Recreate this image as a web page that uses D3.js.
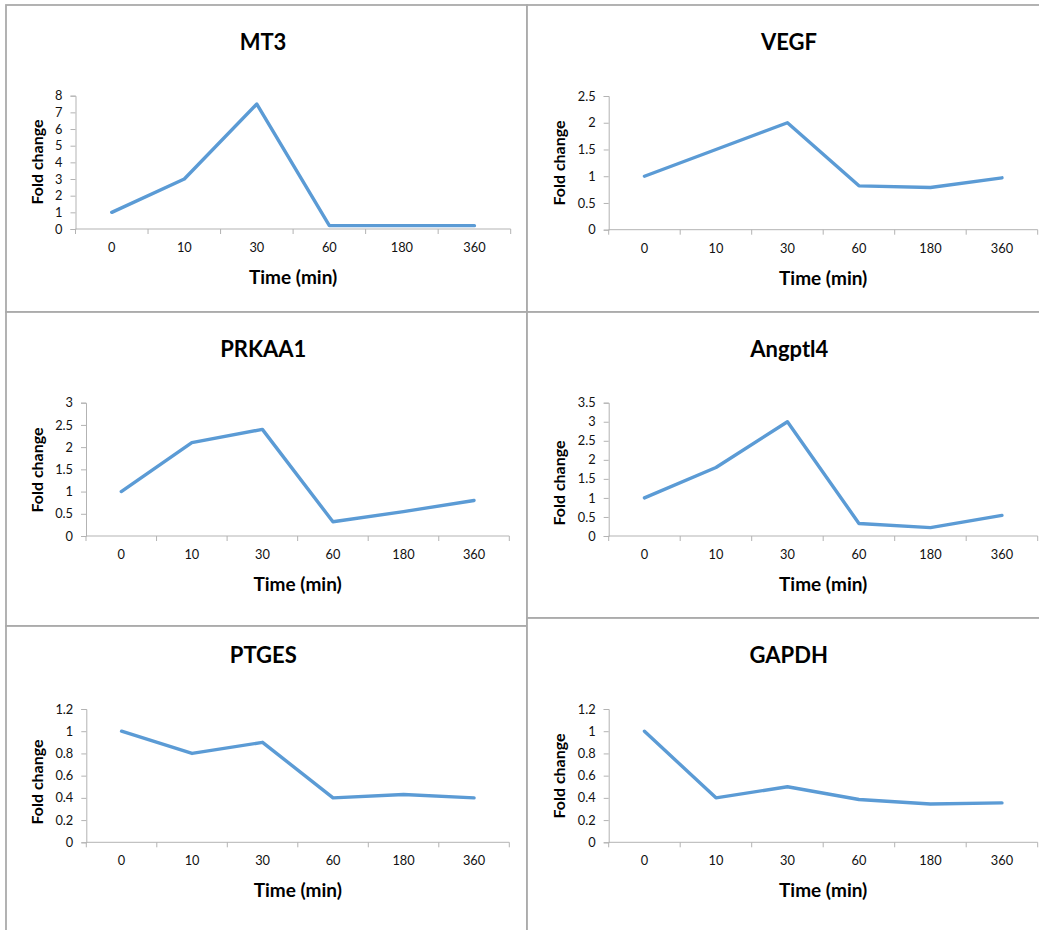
<!DOCTYPE html>
<html>
<head>
<meta charset="utf-8">
<script src="https://cdn.jsdelivr.net/npm/d3@7"></script>
<style>
  html, body { margin: 0; padding: 0; background: #ffffff; }
  svg { display: block; }
</style>
</head>
<body>
<svg id="chart" width="1039" height="930"></svg>
<script>
// ---------------- DATA ----------------
const categories = ["0", "10", "30", "60", "180", "360"];

const mt3Values     = [1, 3, 7.5, 0.2, 0.2, 0.2];
const vegfValues    = [1, 1.5, 2, 0.82, 0.79, 0.97];
const prkaa1Values  = [1, 2.1, 2.4, 0.32, 0.55, 0.8];
const angptl4Values = [1, 1.8, 3, 0.33, 0.22, 0.54];
const ptgesValues   = [1, 0.8, 0.9, 0.4, 0.43, 0.4];
const gapdhValues   = [1, 0.4, 0.5, 0.385, 0.345, 0.355];

const mt3Ticks     = [0, 1, 2, 3, 4, 5, 6, 7, 8];
const vegfTicks    = [0, 0.5, 1, 1.5, 2, 2.5];
const prkaa1Ticks  = [0, 0.5, 1, 1.5, 2, 2.5, 3];
const angptl4Ticks = [0, 0.5, 1, 1.5, 2, 2.5, 3, 3.5];
const ptgesTicks   = [0, 0.2, 0.4, 0.6, 0.8, 1, 1.2];
const gapdhTicks   = [0, 0.2, 0.4, 0.6, 0.8, 1, 1.2];

const chartTitles = ["MT3", "VEGF", "PRKAA1", "Angptl4", "PTGES", "GAPDH"];
const xAxisTitle = "Time (min)";
const yAxisTitle = "Fold change";

// ---------------- LAYOUT ----------------
const seriesList = [mt3Values, vegfValues, prkaa1Values, angptl4Values, ptgesValues, gapdhValues];
const tickList = [mt3Ticks, vegfTicks, prkaa1Ticks, angptl4Ticks, ptgesTicks, gapdhTicks];

const layouts = [
  { box: [6, 5, 521, 307],    plot: [75.5, 510.7, 95.7, 229],   titleX: 263,   titleY: 50,    ytX: 37,    ytY: 162 },
  { box: [527, 5, 520, 307],  plot: [608.7, 1037.7, 96, 229.7], titleX: 789,   titleY: 50,    ytX: 559.3, ytY: 163 },
  { box: [6, 312, 521, 314],  plot: [86, 509.3, 402.7, 536],    titleX: 263.3, titleY: 357,   ytX: 36.7,  ytY: 470 },
  { box: [527, 312, 520, 306],plot: [608.7, 1037.7, 402.7, 536],titleX: 789.3, titleY: 357,   ytX: 559.3, ytY: 483 },
  { box: [6, 626, 521, 320],  plot: [86.3, 509.3, 709, 842.3],  titleX: 263.3, titleY: 662.7, ytX: 36.7,  ytY: 782 },
  { box: [527, 618, 520, 330],plot: [608.7, 1037.7, 709, 842.3],titleX: 788.7, titleY: 663.3, ytX: 559.3, ytY: 776 }
];

const FONT = "Lato, 'Open Sans', sans-serif";
const LINE_COLOR = "#5B9BD5";
const AXIS_COLOR = "#b3b3b3";
const BORDER_COLOR = "#ababab";

const svg = d3.select("#chart");

layouts.forEach((L, i) => {
  const g = svg.append("g");
  const values = seriesList[i];
  const ticks = tickList[i];

  // panel border
  g.append("rect")
    .attr("x", L.box[0]).attr("y", L.box[1])
    .attr("width", L.box[2]).attr("height", L.box[3])
    .attr("fill", "#fff")
    .attr("stroke", BORDER_COLOR).attr("stroke-width", 1.8);

  const [px0, px1, py0, py1] = L.plot;
  const x = d3.scaleBand().domain(categories).range([px0, px1]).padding(0);
  const y = d3.scaleLinear().domain([0, d3.max(ticks)]).range([py1, py0]);

  // Y axis
  const yAxis = d3.axisLeft(y).tickValues(ticks).tickSize(5).tickPadding(8)
    .tickFormat(d => String(d));
  const yg = g.append("g").attr("transform", `translate(${px0},0)`).call(yAxis);
  yg.select(".domain").attr("stroke", AXIS_COLOR).attr("stroke-width", 1);
  yg.selectAll(".tick line").attr("stroke", AXIS_COLOR);
  yg.selectAll(".tick text").attr("fill", "#111").style("font-family", FONT).style("font-size", "12.8px");

  // X axis (labels at category centres, tick marks at boundaries)
  const xAxis = d3.axisBottom(x).tickSize(0).tickPadding(14);
  const xg = g.append("g").attr("transform", `translate(0,${py1})`).call(xAxis);
  xg.select(".domain").remove();
  xg.selectAll(".tick text").attr("fill", "#111").style("font-family", FONT).style("font-size", "12.8px");
  g.append("line")
    .attr("x1", px0).attr("x2", px1).attr("y1", py1).attr("y2", py1)
    .attr("stroke", AXIS_COLOR).attr("stroke-width", 1);
  const bounds = categories.map(c => x(c)).concat([x.range()[1]]);
  g.selectAll("line.xb").data(bounds).enter().append("line")
    .attr("class", "xb")
    .attr("x1", d => d).attr("x2", d => d)
    .attr("y1", py1).attr("y2", py1 + 5)
    .attr("stroke", AXIS_COLOR).attr("stroke-width", 1);

  // Line
  const line = d3.line()
    .x((d, j) => x(categories[j]) + x.bandwidth() / 2)
    .y(d => y(d));
  g.append("path").datum(values)
    .attr("d", line)
    .attr("fill", "none")
    .attr("stroke", LINE_COLOR)
    .attr("stroke-width", 3.4)
    .attr("stroke-linejoin", "round")
    .attr("stroke-linecap", "round");

  // Titles
  g.append("text")
    .attr("x", L.titleX).attr("y", L.titleY)
    .attr("text-anchor", "middle")
    .style("font-family", FONT).style("font-weight", "bold").style("font-size", "22px")
    .attr("fill", "#000")
    .text(chartTitles[i]);

  g.append("text")
    .attr("x", (px0 + px1) / 2).attr("y", py1 + 55)
    .attr("text-anchor", "middle")
    .style("font-family", FONT).style("font-weight", "bold").style("font-size", "19px")
    .attr("fill", "#000")
    .text(xAxisTitle);

  g.append("text")
    .attr("transform", `translate(${L.ytX + 6},${L.ytY}) rotate(-90)`)
    .attr("text-anchor", "middle")
    .style("font-family", FONT).style("font-weight", "bold").style("font-size", "16px")
    .attr("fill", "#000")
    .text(yAxisTitle);
});
</script>
</body>
</html>
